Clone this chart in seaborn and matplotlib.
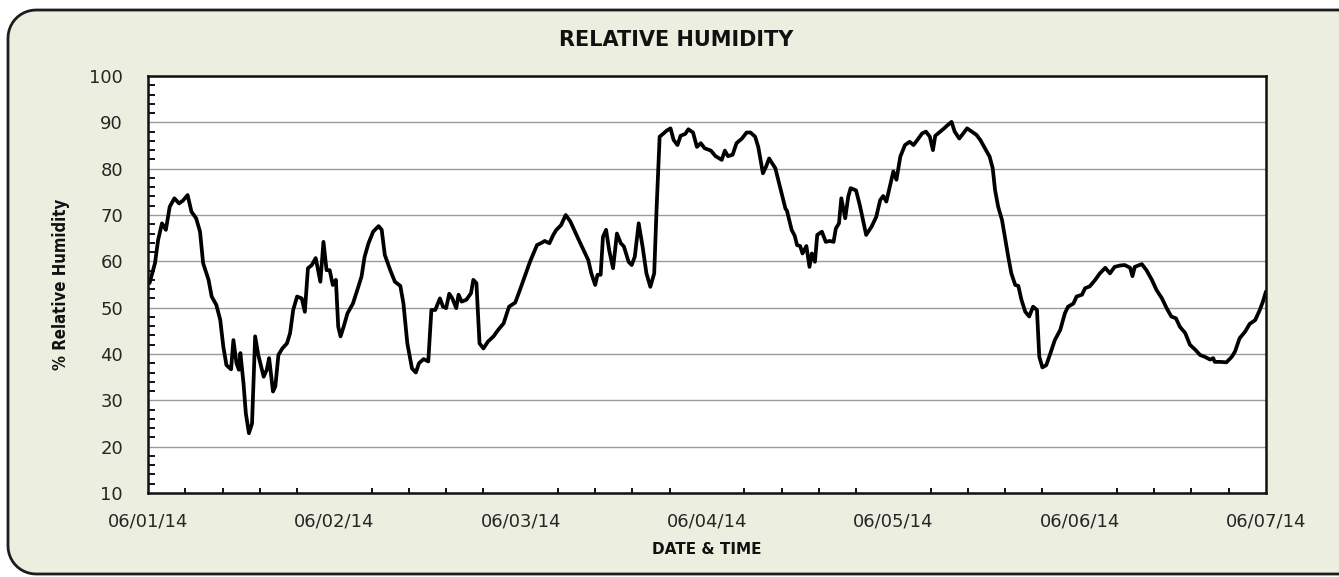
import numpy as np
import pandas as pd
import matplotlib
matplotlib.use('Agg')
import matplotlib.pyplot as plt
import matplotlib.dates as mdates
from matplotlib.ticker import MultipleLocator
from matplotlib.patches import Polygon
from matplotlib.lines import Line2D
from matplotlib.transforms import IdentityTransform
from matplotlib import font_manager
import seaborn as sns

START = '2014-06-01'
END = '2014-06-07'

# hours since 06/01/14 00:00
HOURS = [
    0.2, 0.9, 1.3, 1.8, 2.3, 2.8, 3.4, 4.0, 4.5, 5.1, 5.6, 6.2, 6.7, 7.1, 7.8,
    8.2, 8.8, 9.3, 9.7, 10.1, 10.7, 11.0, 11.4, 11.7, 11.9, 12.3, 12.6, 13.0,
    13.4, 13.8, 14.2, 14.9, 15.3, 15.6, 16.1, 16.4, 16.8, 17.3, 17.9, 18.3,
    18.7, 19.2, 19.8, 20.2, 20.6, 21.1, 21.6, 22.2, 22.6, 23.0, 23.4, 23.8,
    24.2, 24.5, 24.8, 25.2, 25.7, 26.4, 26.9, 27.5, 27.9, 28.4, 29.0, 29.7,
    30.1, 30.5, 31.2, 31.8, 32.5, 32.9, 33.4, 34.0, 34.5, 34.9, 35.5, 36.1,
    36.5, 37.0, 37.6, 38.0, 38.4, 38.8, 39.2, 39.7, 40.0, 40.4, 41.0, 41.6,
    41.9, 42.3, 42.7, 43.2, 43.8, 44.5, 45.1, 45.8, 46.5, 47.3, 47.9, 48.6,
    49.2, 50.1, 50.7, 51.1, 51.7, 52.2, 52.6, 53.2, 53.8, 54.4, 55.0, 55.6,
    56.3, 56.7, 57.1, 57.6, 57.9, 58.3, 58.6, 59.0, 59.4, 59.9, 60.4, 60.9,
    61.3, 61.9, 62.3, 62.7, 63.2, 63.7, 64.2, 64.7, 65.2, 65.5, 65.9, 66.4,
    66.8, 67.3, 67.7, 68.2, 68.6, 69.2, 69.6, 70.2, 70.7, 71.2, 71.7, 72.5,
    73.1, 73.9, 74.3, 74.7, 75.3, 75.8, 76.5, 77.1, 77.6, 78.2, 78.6, 79.2,
    79.6, 80.0, 80.8, 81.4, 82.1, 82.3, 82.9, 83.3, 83.6, 84.0, 84.3, 84.8,
    85.2, 85.5, 85.9, 86.2, 86.8, 87.3, 87.8, 88.3, 88.6, 89.0, 89.3, 89.8,
    90.2, 90.5, 91.2, 91.7, 92.1, 92.5, 93.2, 93.8, 94.3, 94.7, 95.1, 95.6,
    96.0, 96.4, 96.9, 97.5, 98.1, 98.6, 99.1, 99.7, 100.2, 100.7, 101.1,
    101.4, 101.9, 102.4, 103.0, 103.5, 103.9, 104.5, 105.0, 105.5, 106.1,
    106.7, 107.2, 107.8, 108.4, 108.8, 109.1, 109.5, 110.0, 110.4, 110.8,
    111.2, 111.7, 112.1, 112.5, 113.0, 113.5, 114.0, 114.5, 114.8, 115.2,
    115.7, 116.2, 116.8, 117.5, 118.1, 118.5, 119.2, 119.6, 120.3, 120.7,
    121.3, 122.0, 122.6, 123.3, 123.9, 124.5, 125.2, 125.8, 126.5, 126.8,
    127.1, 128.0, 128.6, 129.3, 129.9, 130.6, 131.2, 131.8, 132.4, 132.9,
    133.6, 134.2, 134.9, 135.5, 136.1, 136.8, 137.2, 137.4, 138.1, 138.9,
    139.6, 140.0, 140.6, 141.3, 141.9, 142.6, 143.2, 143.6, 144.0,
]

RH = [
    55.3, 59.6, 64.6, 68.2, 66.8, 71.8, 73.6, 72.5, 73.1, 74.3, 70.7, 69.3,
    66.4, 59.6, 56.0, 52.4, 50.6, 47.4, 41.6, 37.6, 36.7, 43.0, 38.0, 36.6,
    40.2, 33.7, 27.2, 22.9, 25.0, 43.8, 39.8, 35.1, 36.6, 39.1, 31.9, 33.0,
    39.8, 41.2, 42.3, 44.5, 49.5, 52.4, 52.0, 49.1, 58.5, 59.2, 60.7, 55.6,
    64.2, 58.1, 58.1, 54.9, 56.0, 45.9, 43.8, 45.9, 48.8, 50.9, 53.5, 56.7,
    61.0, 63.9, 66.4, 67.6, 66.8, 61.4, 58.1, 55.6, 54.7, 50.9, 42.3, 36.9,
    36.0, 38.0, 38.9, 38.4, 49.5, 49.5, 52.0, 50.2, 49.9, 53.0, 52.0, 49.9,
    52.8, 51.3, 51.7, 53.1, 56.0, 55.3, 42.3, 41.2, 42.7, 43.8, 45.2, 46.6,
    50.2, 51.1, 53.8, 57.1, 59.9, 63.5, 64.0, 64.4, 63.9, 65.7, 66.8, 67.8,
    70.0, 68.6, 66.4, 64.2, 61.7, 60.3, 57.4, 54.9, 57.1, 57.1, 65.3, 66.8,
    62.4, 58.5, 66.0, 63.9, 63.2, 59.9, 59.2, 61.0, 68.2, 63.2, 57.4, 54.5,
    57.4, 71.1, 86.9, 87.6, 88.2, 88.7, 86.2, 85.1, 87.1, 87.5, 88.5, 87.8,
    84.7, 85.5, 84.4, 83.9, 82.7, 81.9, 83.9, 82.7, 83.0, 85.5, 86.5, 87.8,
    87.8, 86.9, 84.7, 79.0, 80.4, 82.2, 80.1, 76.1, 71.4, 70.9, 66.8, 65.5,
    63.5, 63.3, 61.7, 63.3, 58.8, 61.7, 59.9, 65.7, 66.4, 64.2, 64.4, 64.2,
    67.1, 68.2, 73.6, 69.3, 74.0, 75.8, 75.3, 72.0, 68.9, 65.7, 67.5, 69.6,
    73.2, 74.1, 72.9, 76.5, 79.4, 77.6, 82.6, 85.1, 85.8, 85.1, 86.2, 87.6,
    88.0, 86.9, 84.0, 87.1, 87.8, 88.5, 89.4, 90.1, 88.0, 86.5, 87.6, 88.7,
    88.0, 87.3, 86.2, 84.4, 82.6, 80.1, 75.4, 71.8, 68.9, 65.0, 61.0, 57.4,
    54.9, 54.7, 51.7, 49.1, 48.1, 50.2, 49.5, 39.4, 37.1, 37.6, 40.0, 43.0,
    45.2, 48.8, 50.2, 50.9, 52.4, 52.8, 54.2, 54.6, 56.0, 57.4, 58.6, 57.4,
    58.8, 59.1, 59.2, 58.6, 56.8, 58.8, 59.4, 58.1, 56.0, 53.8, 52.0, 49.9,
    48.1, 47.7, 45.9, 44.5, 42.0, 40.9, 39.8, 39.4, 38.8, 39.1, 38.3, 38.3,
    38.2, 39.4, 40.5, 43.4, 44.8, 46.5, 47.3, 49.5, 51.3, 53.5,
]

Y_MIN, Y_MAX = 10, 100

W, H = 1339, 577

sns.set_style('white')
plt.rcParams['font.family'] = ['DejaVu Sans']
plt.rcParams['savefig.bbox'] = 'standard'

installed = {f.name for f in font_manager.fontManager.ttflist}
if 'Liberation Sans Narrow' in installed:
    ylabel_font = dict(family=['Liberation Sans Narrow', 'DejaVu Sans'], size=16)
else:
    ylabel_font = dict(family=['DejaVu Sans'], size=12, stretch='condensed')

df = pd.DataFrame({
    'time': pd.Timestamp(START) + pd.to_timedelta(HOURS, unit='h'),
    'rh': RH,
})

fig = plt.figure(figsize=(W / 100, H / 100), dpi=100)
fig.patch.set_facecolor('white')

# rounded chart frame (pixel coords), open on the right like the original
left, top, bottom, r = 8, H - 10, 3, 28
a1 = np.linspace(np.pi / 2, np.pi, 12)
a2 = np.linspace(np.pi, 1.5 * np.pi, 12)
fx = np.concatenate([[W], left + r + r * np.cos(a1), left + r + r * np.cos(a2), [W]])
fy = np.concatenate([[top], top - r + r * np.sin(a1), bottom + r + r * np.sin(a2), [bottom]])
fig.add_artist(Polygon(np.column_stack([fx, fy]), closed=True, facecolor='#ECEFE0',
                       edgecolor='none', transform=IdentityTransform(), zorder=-11))
fig.add_artist(Line2D(fx, fy, color='#1c1c1c', linewidth=2, solid_capstyle='butt',
                      transform=IdentityTransform(), zorder=-10))

ax = fig.add_axes([148 / W, 84 / H, 1118 / W, 417 / H])
ax.set_facecolor('white')

sns.lineplot(data=df, x='time', y='rh', color='black', linewidth=2.7, ax=ax)

ax.set_xlim(pd.Timestamp(START), pd.Timestamp(END))
ax.set_ylim(Y_MIN, Y_MAX)
ax.xaxis.set_major_locator(mdates.DayLocator())
ax.xaxis.set_major_formatter(mdates.DateFormatter('%m/%d/%y'))
ax.xaxis.set_minor_locator(MultipleLocator(0.2))
ax.yaxis.set_major_locator(MultipleLocator(10))
ax.yaxis.set_minor_locator(MultipleLocator(2))

ax.yaxis.grid(True, which='major', color='#9a9a9a', linewidth=1)
ax.xaxis.grid(False)

for side in ['left', 'bottom', 'top', 'right']:
    ax.spines[side].set_visible(True)
    ax.spines[side].set_color('#111111')
    ax.spines[side].set_linewidth(1.8)

ax.tick_params(axis='y', which='major', direction='out', length=6.5, width=1.6,
               color='black', labelsize=13, labelcolor='#262626', pad=11.5)
ax.tick_params(axis='y', which='minor', direction='in', length=5, width=1.3,
               color='black', left=True)
ax.tick_params(axis='x', which='major', direction='inout', length=10, width=1.6,
               color='black', labelsize=13, labelcolor='#262626', pad=9)
ax.tick_params(axis='x', which='minor', direction='in', length=3.5, width=1.3,
               color='black', bottom=True)

ax.set_xlabel('DATE & TIME', fontsize=11, fontweight='bold', color='#111111')
ax.xaxis.set_label_coords(0.5, -0.117)
ax.set_ylabel('% Relative Humidity', fontweight='bold', color='#111111', **ylabel_font)
ax.yaxis.set_label_coords(-0.0698, 0.5)

fig.text(676 / W, 1 - 40 / H, 'RELATIVE HUMIDITY', ha='center', va='center',
         fontsize=15, fontweight='bold', color='#111111')

fig.savefig('out.png', dpi=100, facecolor=fig.get_facecolor(), bbox_inches=None)
